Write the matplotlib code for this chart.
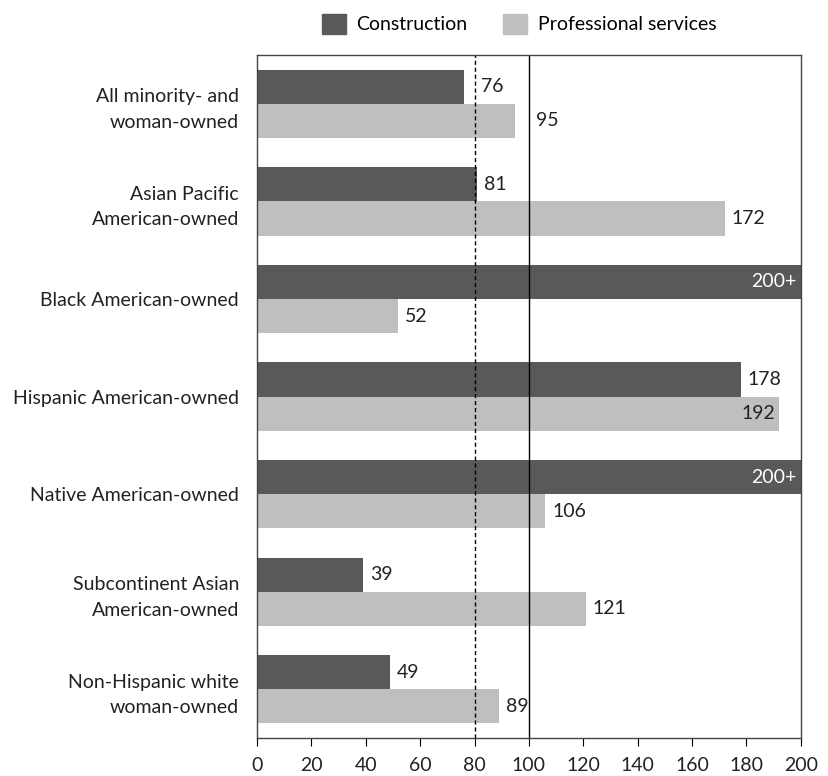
import numpy as np
import matplotlib.pyplot as plt
from matplotlib.patches import Patch

plt.rcParams['font.family'] = ['Lato', 'DejaVu Sans']

groups = ['All minority- and\nwoman-owned', 'Asian Pacific\nAmerican-owned',
          'Black American-owned', 'Hispanic American-owned',
          'Native American-owned', 'Subcontinent Asian\nAmerican-owned',
          'Non-Hispanic white\nwoman-owned']
construction = [76, 81, 200, 178, 200, 39, 49]
construction_labels = ['76', '81', '200+', '178', '200+', '39', '49']
professional = [95, 172, 52, 192, 106, 121, 89]
professional_labels = ['95', '172', '52', '192', '106', '121', '89']

dark = '#595959'
light = '#bfbfbf'
fs = 14

fig = plt.figure(figsize=(8.29, 7.76), dpi=100)
ax = fig.add_axes([0.310, 0.049, 0.656, 0.880])

y = np.arange(len(groups))
h = 0.35
ax.barh(y - h / 2, construction, height=h, color=dark)
ax.barh(y + h / 2, professional, height=h, color=light)

def put_labels(vals, labels, offs):
    for yy, v, lab in zip(y + offs, vals, labels):
        if lab.endswith('+'):
            ax.text(v - 1.5, yy, lab, ha='right', va='center', color='white', fontsize=fs)
        elif v > 185:
            ax.text(v - 1.5, yy, lab, ha='right', va='center', color='#222222', fontsize=fs)
        else:
            # keep the number clear of the reference lines at 80 and 100
            x = v + 2.5
            for ref in (80, 100):
                if v < ref <= v + 10:
                    x = ref + 2.5
            ax.text(x, yy, lab, ha='left', va='center', color='#222222', fontsize=fs)

put_labels(construction, construction_labels, -h / 2)
put_labels(professional, professional_labels, h / 2)

ax.axvline(80, color='black', lw=1, ls=(0, (3, 2)))
ax.axvline(100, color='black', lw=1)

ax.set_xlim(0, 200)
ax.set_ylim(len(groups) - 0.5, -0.5)
ax.set_xticks(range(0, 201, 20))
ax.set_yticks(y)
ax.set_yticklabels(groups, fontsize=fs, color='#222222', linespacing=1.6)
ax.tick_params(axis='y', length=0, pad=13)
ax.tick_params(axis='x', labelsize=fs, labelcolor='#222222', length=6, pad=8)
for s in ax.spines.values():
    s.set_color('#444444')
    s.set_linewidth(1)

handles = [Patch(color=dark, label='Construction'),
           Patch(color=light, label='Professional services')]
fig.legend(handles=handles, loc='upper center', bbox_to_anchor=(0.626, 1.005), ncol=2,
           frameon=False, fontsize=fs, handlelength=1.25, handleheight=1.25,
           columnspacing=1.8, handletextpad=0.55)

fig.savefig('out.png', dpi=100)
